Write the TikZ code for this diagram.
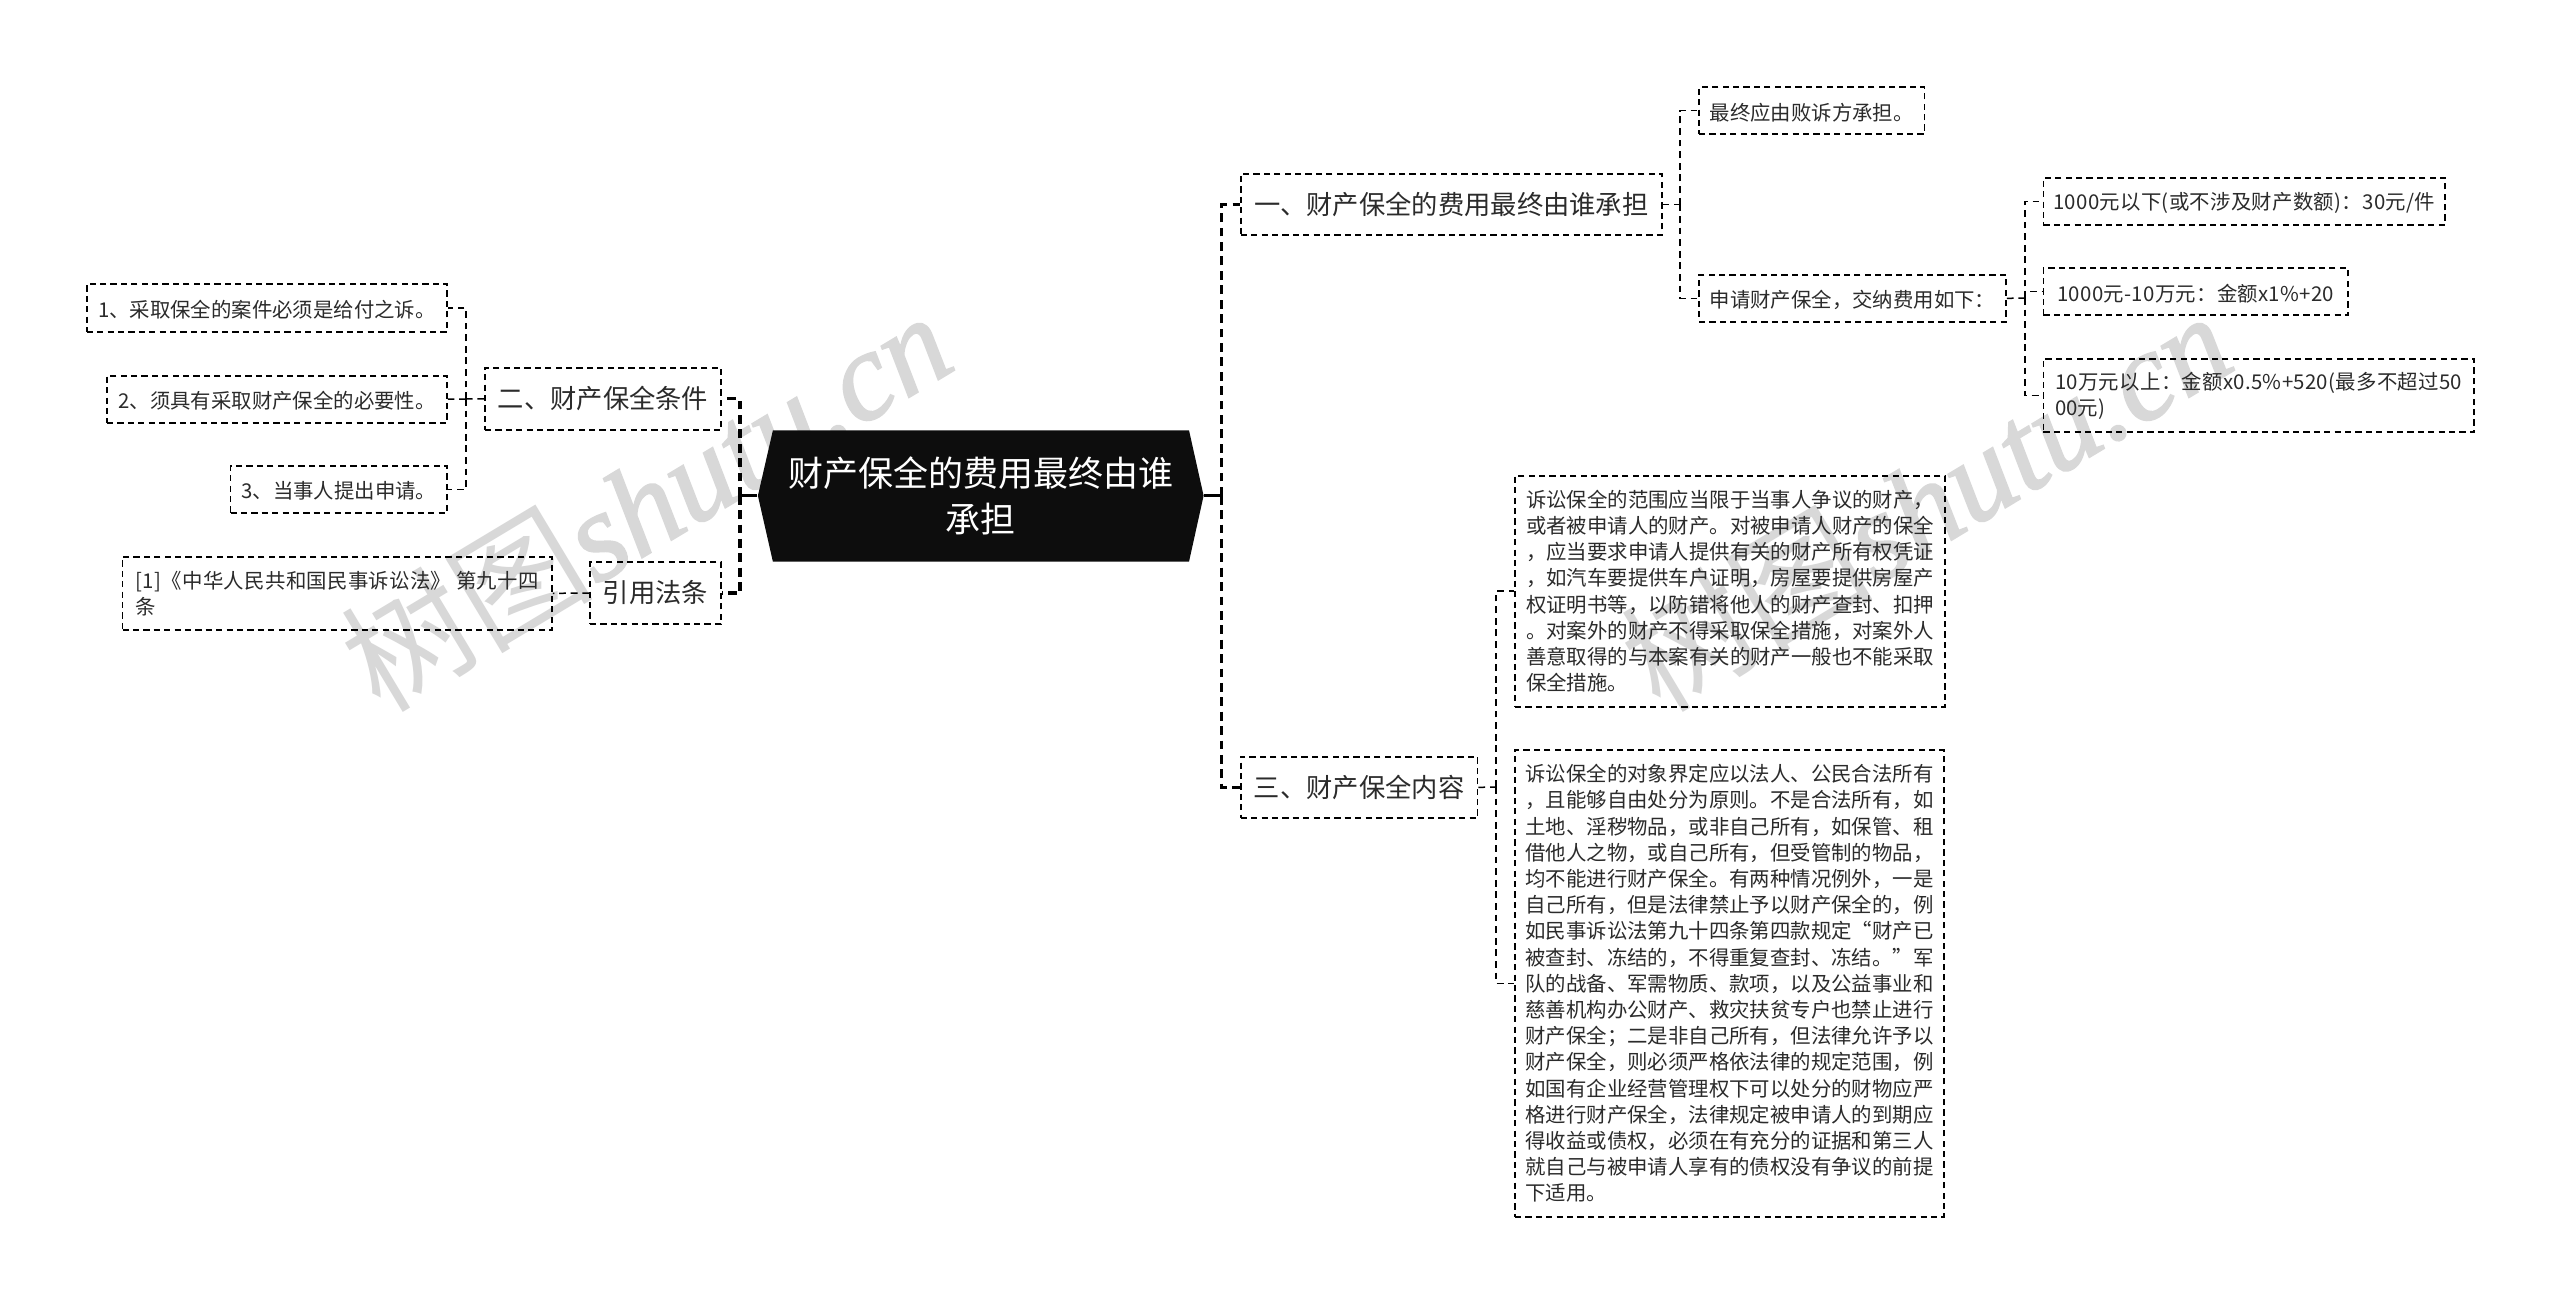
\documentclass[tikz,border=0pt]{standalone}
\usepackage{fontspec}
\setmainfont{Noto Sans CJK SC}
\newfontfamily\wmlatin{Liberation Serif Italic}[FakeBold=1.5]
\newfontfamily\trk{Noto Sans CJK SC}[LetterSpace=1.5]
\definecolor{ink}{HTML}{2B2B2B}
\definecolor{rootfill}{HTML}{0D0D0D}
\definecolor{wmgrey}{HTML}{D8D8D8}
\tikzset{
  boxbase/.style={draw=black,line width=0.9pt,dash pattern=on 3.1pt off 2.1pt,inner sep=0pt,align=left,text=ink},
  smallbox/.style={boxbase,font=\fontsize{10.2pt}{13.1pt}\selectfont,execute at begin node={\rule{0pt}{1.02em}}},
  midbox/.style={boxbase,font=\fontsize{13.15pt}{17pt}\selectfont},
  thin link/.style={draw=black,line width=0.75pt,dash pattern=on 3.4pt off 2.4pt},
  thick link/.style={draw=black,line width=1.6pt,dash pattern=on 4.4pt off 2.8pt},
  root stub/.style={draw=black,line width=1.6pt},
  wm/.style={text=wmgrey,rotate=31,font=\fontsize{63pt}{63pt}\selectfont,inner sep=0pt}
}
% \bx{style}{name}{x1}{y1}{x2}{y2}{text}
\newcommand{\bx}[7]{%
  \pgfmathsetmacro{\bxw}{(#5-#3)*0.5}%
  \pgfmathsetmacro{\bxh}{(#6-#4)*0.5}%
  \node[#1,minimum width=\bxw pt,minimum height=\bxh pt] (#2) at ({(#3+#5)/2},{(#4+#6)/2}) {#7};%
}
\begin{document}
\begin{tikzpicture}[x=0.5pt,y=-0.5pt]
\useasboundingbox (0,0) rectangle (2560,1305);
\fill[white] (0,0) rectangle (2560,1305);
% watermarks
\node[wm] (wmA) at (645,500) {树图{\wmlatin shutu.cn}};
\node[wm] (wmB) at (1925,500) {树图{\wmlatin shutu.cn}};
% root
\fill[rootfill] (757.9,495.7) -- (772.9,430.3) -- (1189,430.3) -- (1203.6,495.7) -- (1189,561.7) -- (772.9,561.7) -- cycle;
\node[minimum width=222.85pt,minimum height=65.7pt,inner sep=0pt,align=center,text=white,font=\fontsize{17.5pt}{23.2pt}\selectfont] (root) at (980.7,495.7) {财产保全的费用最终由谁\\承担};
% spines
\coordinate (sL) at (740,495.7);
\coordinate (sR) at (1221.4,495.7);
\coordinate (s1) at (1680,204.5);
\coordinate (s2) at (2024.8,298);
\coordinate (s3) at (1496,787);
\coordinate (s4) at (466,399);
% level 1
\bx{midbox}{n1}{1240.8}{174}{1661.7}{235}{一、财产保全的费用最终由谁承担}
\bx{midbox}{n3}{1240.7}{756.7}{1477.5}{818}{三、财产保全内容}
\bx{midbox}{n2}{485}{367.7}{721}{430}{二、财产保全条件}
\bx{midbox}{n4}{590}{562}{721}{624}{引用法条}
% level 2 right
\bx{smallbox}{a1}{1699}{87.3}{1924.5}{134}{最终应由败诉方承担。}
\bx{smallbox}{a2}{1699}{275}{2005.9}{321.7}{申请财产保全，交纳费用如下：}
\bx{smallbox}{b1}{2043.4}{178}{2445}{224.7}{\trk 1000元以下(或不涉及财产数额)：30元/件}
\bx{smallbox}{b2}{2043.4}{268.3}{2348}{315}{\trk 1000元-10万元：金额x1\%+20}
\bx{smallbox}{b3}{2043.4}{359}{2473.8}{432}{\trk 10万元以上：金额x0.5\%+520(最多不超过50\\00元)}
\bx{smallbox}{c1}{1515}{475.7}{1945}{706.7}{诉讼保全的范围应当限于当事人争议的财产，\\或者被申请人的财产。对被申请人财产的保全\\，应当要求申请人提供有关的财产所有权凭证\\，如汽车要提供车户证明，房屋要提供房屋产\\权证明书等，以防错将他人的财产查封、扣押\\。对案外的财产不得采取保全措施，对案外人\\善意取得的与本案有关的财产一般也不能采取\\保全措施。}
\bx{smallbox}{c2}{1515}{750}{1944}{1217}{诉讼保全的对象界定应以法人、公民合法所有\\，且能够自由处分为原则。不是合法所有，如\\土地、淫秽物品，或非自己所有，如保管、租\\借他人之物，或自己所有，但受管制的物品，\\均不能进行财产保全。有两种情况例外，一是\\自己所有，但是法律禁止予以财产保全的，例\\如民事诉讼法第九十四条第四款规定“财产已\\被查封、冻结的，不得重复查封、冻结。”军\\队的战备、军需物质、款项，以及公益事业和\\慈善机构办公财产、救灾扶贫专户也禁止进行\\财产保全；二是非自己所有，但法律允许予以\\财产保全，则必须严格依法律的规定范围，例\\如国有企业经营管理权下可以处分的财物应严\\格进行财产保全，法律规定被申请人的到期应\\得收益或债权，必须在有充分的证据和第三人\\就自己与被申请人享有的债权没有争议的前提\\下适用。}
% level 2 left
\bx{smallbox}{l1}{86.8}{284}{447}{331.7}{1、采取保全的案件必须是给付之诉。}
\bx{smallbox}{l2}{107}{375.7}{447}{422.7}{2、须具有采取财产保全的必要性。}
\bx{smallbox}{l3}{230.5}{466}{447}{512.7}{3、当事人提出申请。}
\bx{smallbox}{l4}{122.5}{556.7}{552}{630}{\trk [1]《中华人民共和国民事诉讼法》 第九十四\\条}
% connectors from root
\draw[root stub] (root.west) -- (sL);
\draw[root stub] (root.east) -- (sR);
\draw[thick link] (sL) |- (n2.east);
\draw[thick link] (sL) |- (n4.east);
\draw[thick link] (sR) |- (n1.west);
\draw[thick link] (sR) |- (n3.west);
% level 1 to level 2
\draw[thin link] (n1.east) -- (s1);
\draw[thin link] (s1) |- (a1.west);
\draw[thin link] (s1) |- (a2.west);
\draw[thin link] (a2.east) -- (s2);
\draw[thin link] (s2) |- (b1.west);
\draw[thin link] (s2) |- (b2.west);
\draw[thin link] (s2) |- (b3.west);
\draw[thin link] (n3.east) -- (s3);
\draw[thin link] (s3) |- (c1.west);
\draw[thin link] (s3) |- (c2.west);
\draw[thin link] (n2.west) -- (s4);
\draw[thin link] (s4) |- (l1.east);
\draw[thin link] (s4) -- (l2.east);
\draw[thin link] (s4) |- (l3.east);
\draw[thin link] (n4.west) -- (l4.east);
\end{tikzpicture}
\end{document}
